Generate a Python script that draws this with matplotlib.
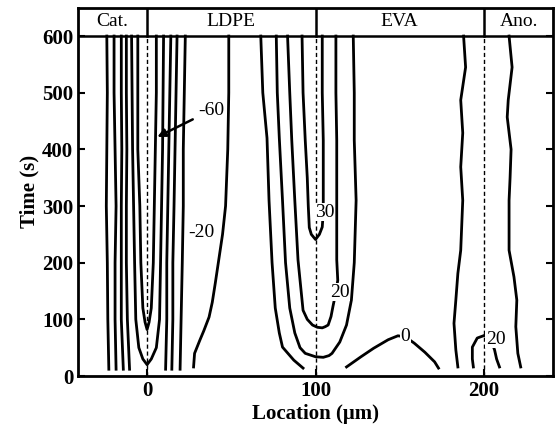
import numpy as np
import matplotlib.pyplot as plt

plt.rcParams["font.family"] = ["Liberation Serif", "DejaVu Serif"]

# ── contour data (x in µm, t in s) ───────────────────────────────────────
# straight-ish lines around the cathode interface
t_cat = [12, 100, 200, 300, 400, 500, 600]
cat_l1 = [-22.7, -23.3, -23.6, -24.2, -23.9, -23.6, -23.9]
cat_l2 = [-18.4, -19.0, -19.0, -18.4, -19.0, -19.6, -19.6]
cat_l3 = [-14.1, -15.3, -15.3, -15.3, -15.0, -15.3, -15.3]
cat_l4 = [-10.4, -11.7, -12.3, -12.3, -12.0, -12.3, -12.3]
cat_r1 = [11.0, 11.7, 11.7, 12.3, 12.9, 13.5, 14.1]
cat_r2 = [14.7, 15.3, 15.3, 16.0, 16.6, 17.2, 17.8]
cat_r3 = [19.6, 20.2, 20.9, 21.5, 21.5, 22.1, 22.7]

# two closed U shapes on the cathode interface
u1_t = [600, 500, 400, 300, 200, 120, 95, 82, 95, 120, 200, 300, 400, 500, 600]
u1_x = [-5.5, -5.5, -5.5, -4.3, -3.7, -2.5, -1.2, 0, 1.2, 2.5, 3.7, 4.3, 4.9, 5.5, 5.5]
u2_t = [600, 400, 300, 200, 100, 50, 30, 20, 30, 50, 100, 200, 300, 400, 600]
u2_x = [-9.2, -8.6, -8.0, -7.4, -6.7, -4.9, -2.5, 0, 2.5, 5.5, 7.4, 8.0, 8.6, 9.2, 9.8]

# bent line inside LDPE
c_t = [600, 500, 400, 300, 250, 200, 164, 130, 104, 80, 63, 40, 16]
c_x = [48.5, 48.5, 47.9, 46.6, 44.8, 42.3, 40.5, 38.7, 36.8, 33.7, 31.3, 28.2, 27.6]

# nested contours on the LDPE / EVA interface
o_t = [600, 500, 420, 310, 200, 120, 76, 51, 28, 14]
o_x = [67.5, 68.7, 71.2, 72.4, 74.2, 76.1, 78.5, 80.4, 87.1, 92.6]
c10_t = [600, 500, 420, 310, 200, 120, 76, 50, 40, 34, 33, 36, 40, 60, 90, 134, 200, 310, 416, 500, 600]
c10_x = [76.7, 77.3, 78.5, 80.4, 82.2, 84.7, 87.7, 90.8, 93.9, 100, 104.6, 108.0, 109.8,
         114.4, 118.4, 121.3, 123.0, 124.1, 123.0, 123.0, 122.4]
c20_t = [600, 500, 416, 310, 205, 116, 100, 90, 86, 85, 87, 90, 105, 122, 148, 169, 205, 310, 416, 500, 600]
c20_x = [83.4, 84.7, 85.9, 87.7, 89.6, 92.6, 95.1, 98.2, 101.1, 104.0, 105.7, 107.5, 109.2,
         110.3, 112.1, 113.2, 112.6, 112.6, 112.6, 112.1, 112.1]
c30_t = [600, 500, 416, 350, 300, 262, 250, 241, 250, 263, 289, 316, 416, 500, 600]
c30_x = [92.0, 92.6, 93.9, 95.1, 95.7, 96.3, 97.5, 100, 102.3, 104.0, 104.6, 104.6, 104.6, 104.0, 104.0]

# hump in EVA (0 contour)
h_t = [16, 34, 49, 64, 71, 69, 58, 42, 25, 14]
h_x = [118.4, 127.0, 134.5, 143.1, 148.9, 153.4, 158.6, 164.9, 170.7, 173.0]

# lines around the anode interface
a_t = [600, 545, 487, 429, 369, 310, 222, 181, 134, 93, 46, 16]
a_x = [187.9, 189.1, 186.2, 187.4, 186.2, 187.4, 186.2, 184.5, 183.3, 182.2, 183.3, 184.5]
n_t = [16, 30, 51, 67, 72, 60, 46, 30, 16]
n_x = [193.7, 193.1, 193.1, 196.0, 200.6, 204.6, 206.3, 207.5, 209.2]
b_t = [600, 545, 487, 457, 400, 350, 310, 222, 175, 134, 87, 40, 16]
b_x = [214.9, 216.7, 214.4, 213.8, 216.1, 215.5, 214.9, 214.9, 217.8, 219.5, 218.9, 220.1, 221.8]

interfaces = [0, 100, 200]
layers = ["Cat.", "LDPE", "EVA", "Ano."]
layer_mid = [-20.5, 50, 150, 220.5]

# ── figure ────────────────────────────────────────────────────────────────
fig = plt.figure(figsize=(5.58, 4.32), dpi=100)
ax = fig.add_axes([0.1398, 0.1296, 0.8513, 0.8525])

lw = 2.0
for xs in [cat_l1, cat_l2, cat_l3, cat_l4, cat_r1, cat_r2, cat_r3]:
    ax.plot(xs, t_cat, color="black", lw=lw)
for xs, ts in [(u1_x, u1_t), (u2_x, u2_t), (c_x, c_t), (o_x, o_t), (c10_x, c10_t),
               (c20_x, c20_t), (c30_x, c30_t), (h_x, h_t), (a_x, a_t), (n_x, n_t), (b_x, b_t)]:
    ax.plot(xs, ts, color="black", lw=lw)

# interfaces (dashed) and layer header
for b in interfaces:
    ax.plot([b, b], [0, 600], color="black", lw=1.0, ls=(0, (3, 2)))
    ax.plot([b, b], [600, 650], color="black", lw=1.8)
ax.axhline(600, color="black", lw=1.8)
for name, xm in zip(layers, layer_mid):
    ax.text(xm, 625, name, ha="center", va="center", fontsize=14)

# contour labels
lab = dict(ha="center", va="center", fontsize=14,
           bbox=dict(facecolor="white", edgecolor="none", pad=0.3))
ax.text(32.5, 254, "-20", **lab)
ax.text(105.7, 289, "30", **lab)
ax.text(114.4, 148, "20", **lab)
ax.text(153.4, 69, "0", **lab)
ax.text(206.9, 65, "20", **lab)
ax.annotate("-60", xy=(6.1, 422), xytext=(38.0, 469), ha="center", va="center", fontsize=14,
            arrowprops=dict(arrowstyle="-|>", color="black", lw=1.8, mutation_scale=12,
                            shrinkB=0))

ax.set_xlim(-41, 241)
ax.set_ylim(0, 650)
ax.set_xticks(interfaces)
ax.set_yticks(range(0, 601, 100))
ax.tick_params(direction="in", length=5, width=1.5, right=True, labelsize=15)
for t in ax.get_xticklabels() + ax.get_yticklabels():
    t.set_fontweight("bold")
for s in ax.spines.values():
    s.set_linewidth(2.0)

ax.set_xlabel("Location (\u03bcm)", fontsize=15, fontweight="bold", labelpad=2)
ax.set_ylabel("Time (s)", fontsize=15, fontweight="bold", labelpad=2)

fig.savefig("out.png", dpi=100)
